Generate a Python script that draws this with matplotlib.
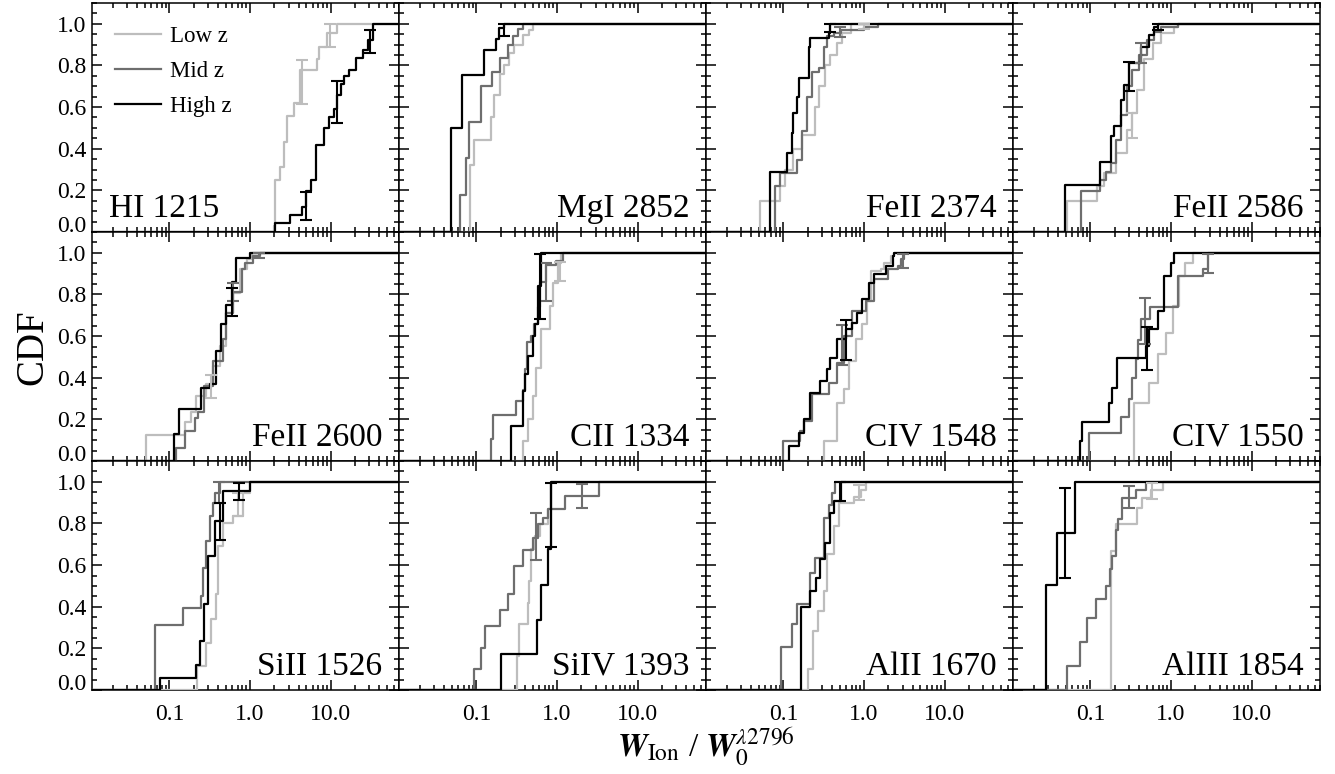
import numpy as np
import matplotlib
matplotlib.use("Agg")
import matplotlib.pyplot as plt
from matplotlib.ticker import FixedLocator, LogLocator, MultipleLocator, FormatStrFormatter, NullFormatter

plt.rcParams['font.family'] = ['Liberation Serif', 'DejaVu Serif']
plt.rcParams['mathtext.fontset'] = 'stix'
plt.rcParams['axes.linewidth'] = 1.1

# 每个离子的累积分布: x 为阶跃位置, y 为阶跃后的 CDF 值
hi1215_low_x = [1.96, 2.02, 2.37, 2.6, 2.87, 3.48, 4.2, 6.8, 7.2, 9.1, 12.1]
hi1215_low_y = [0.03, 0.25, 0.31, 0.43, 0.555, 0.62, 0.78, 0.83, 0.89, 0.955, 1.0]
hi1215_high_x = [2.05, 3.16, 4.42, 4.87, 5.62, 6.49, 8.25, 9.53, 11.0, 12.1, 13.3, 14.7, 16.9, 20.5, 24.9, 28.7, 33.2]
hi1215_high_y = [0.043, 0.083, 0.12, 0.195, 0.25, 0.42, 0.50, 0.55, 0.59, 0.66, 0.71, 0.75, 0.78, 0.835, 0.875, 0.92, 1.0]
hi1215_low_err = [(4.4, 0.72, 0.105), (9.8, 0.945, 0.055)]
hi1215_high_err = [(5.0, 0.125, 0.065), (12.1, 0.625, 0.10), (31.0, 0.915, 0.053)]

mgi2852_low_x = [0.083, 0.094, 0.15, 0.166, 0.198, 0.222, 0.256, 0.296, 0.376, 0.455, 0.50]
mgi2852_low_y = [0.32, 0.44, 0.55, 0.66, 0.76, 0.80, 0.86, 0.90, 0.945, 0.97, 1.0]
mgi2852_mid_x = [0.0625, 0.0736, 0.081, 0.113, 0.158, 0.198, 0.244, 0.282, 0.325, 0.376]
mgi2852_mid_y = [0.18, 0.355, 0.53, 0.70, 0.77, 0.835, 0.90, 0.94, 0.975, 1.0]
mgi2852_high_x = [0.0487, 0.0668, 0.125, 0.175, 0.192, 0.222]
mgi2852_high_y = [0.50, 0.755, 0.875, 0.926, 0.98, 1.0]
mgi2852_high_err = [(0.222, 0.97, 0.03)]

feii2374_low_x = [0.051, 0.091, 0.105, 0.13, 0.169, 0.245, 0.28, 0.332, 0.38, 0.464, 0.536, 0.68]
feii2374_low_y = [0.147, 0.22, 0.30, 0.40, 0.467, 0.60, 0.70, 0.80, 0.85, 0.907, 0.955, 1.0]
feii2374_mid_x = [0.079, 0.091, 0.147, 0.169, 0.195, 0.226, 0.273, 0.316, 0.348, 0.422, 0.511, 1.0, 1.47]
feii2374_mid_y = [0.22, 0.283, 0.347, 0.483, 0.65, 0.77, 0.787, 0.89, 0.94, 0.955, 0.97, 0.987, 1.0]
feii2374_high_x = [0.068, 0.112, 0.127, 0.133, 0.146, 0.154, 0.205, 0.215, 0.365, 0.383]
feii2374_high_y = [0.286, 0.379, 0.475, 0.571, 0.65, 0.739, 0.89, 0.93, 0.955, 1.0]
feii2374_low_err = [(1.0, 0.985, 0.012)]
feii2374_mid_err = [(0.5, 0.96, 0.025)]
feii2374_high_err = [(0.383, 0.98, 0.02)]

feii2586_low_x = [0.052, 0.121, 0.147, 0.205, 0.287, 0.332, 0.383, 0.464, 0.59, 0.75, 1.1, 1.21]
feii2586_low_y = [0.147, 0.22, 0.283, 0.38, 0.49, 0.57, 0.68, 0.83, 0.91, 0.955, 0.987, 1.0]
feii2586_mid_x = [0.0764, 0.133, 0.154, 0.178, 0.205, 0.237, 0.287, 0.332, 0.40, 0.51, 0.62, 0.75, 1.21]
feii2586_mid_y = [0.195, 0.25, 0.29, 0.33, 0.44, 0.56, 0.70, 0.78, 0.85, 0.92, 0.96, 0.987, 1.0]
feii2586_high_x = [0.0487, 0.131, 0.178, 0.196, 0.237, 0.261, 0.302, 0.422, 0.536, 0.619, 0.68]
feii2586_high_y = [0.227, 0.334, 0.459, 0.507, 0.635, 0.707, 0.811, 0.891, 0.947, 0.987, 1.0]
feii2586_low_err = [(0.332, 0.51, 0.06)]
feii2586_mid_err = [(0.42, 0.86, 0.05)]
feii2586_high_err = [(0.30, 0.745, 0.07), (0.68, 0.985, 0.015)]

feii2600_low_x = [0.052, 0.154, 0.187, 0.215, 0.287, 0.348, 0.422, 0.51, 0.62, 0.75, 0.91, 1.05]
feii2600_low_y = [0.123, 0.187, 0.235, 0.31, 0.37, 0.456, 0.552, 0.712, 0.808, 0.92, 0.97, 1.0]
feii2600_mid_x = [0.121, 0.154, 0.205, 0.226, 0.266, 0.348, 0.464, 0.51, 0.62, 0.787, 0.866, 1.1, 1.33]
feii2600_mid_y = [0.064, 0.144, 0.208, 0.235, 0.36, 0.48, 0.584, 0.712, 0.81, 0.92, 0.952, 0.987, 1.0]
feii2600_high_x = [0.115, 0.133, 0.25, 0.32, 0.38, 0.44, 0.50, 0.60, 0.66, 1.0]
feii2600_high_y = [0.13, 0.25, 0.35, 0.37, 0.53, 0.66, 0.75, 0.86, 0.975, 1.0]
feii2600_low_err = [(0.33, 0.36, 0.055)]
feii2600_mid_err = [(0.62, 0.81, 0.043), (1.3, 0.985, 0.012)]
feii2600_high_err = [(0.59, 0.764, 0.068)]

cii1334_low_x = [0.376, 0.434, 0.501, 0.552, 0.637, 0.81, 0.89, 1.03, 1.13]
cii1334_low_y = [0.096, 0.2, 0.312, 0.448, 0.632, 0.744, 0.856, 0.952, 1.0]
cii1334_mid_x = [0.151, 0.16, 0.31, 0.38, 0.40, 0.43, 0.48, 0.52, 0.58, 0.62, 0.73, 0.98, 1.19]
cii1334_mid_y = [0.107, 0.22, 0.29, 0.34, 0.44, 0.57, 0.60, 0.66, 0.74, 0.86, 0.94, 0.96, 1.0]
cii1334_high_x = [0.269, 0.376, 0.40, 0.434, 0.50, 0.526, 0.58, 0.637]
cii1334_high_y = [0.168, 0.336, 0.42, 0.504, 0.60, 0.656, 0.84, 1.0]
cii1334_low_err = [(1.1, 0.91, 0.045)]
cii1334_mid_err = [(0.735, 0.86, 0.092)]
cii1334_high_err = [(0.619, 0.837, 0.155)]

civ1548_low_x = [0.316, 0.464, 0.562, 0.65, 0.787, 0.953, 1.1, 1.21, 1.61, 1.78, 2.15, 2.37]
civ1548_low_y = [0.096, 0.28, 0.344, 0.48, 0.584, 0.656, 0.768, 0.912, 0.92, 0.952, 0.984, 1.0]
civ1548_mid_x = [0.1, 0.162, 0.178, 0.226, 0.365, 0.464, 0.562, 0.715, 1.05, 1.33, 1.96, 2.61, 2.87, 3.16]
civ1548_mid_y = [0.096, 0.144, 0.192, 0.32, 0.376, 0.472, 0.6, 0.72, 0.768, 0.872, 0.92, 0.936, 0.968, 1.0]
civ1548_high_x = [0.119, 0.154, 0.178, 0.215, 0.287, 0.348, 0.383, 0.464, 0.59, 0.715, 0.826, 0.953, 1.15, 1.33, 1.87, 2.26, 2.37]
civ1548_high_y = [0.072, 0.136, 0.2, 0.328, 0.384, 0.44, 0.496, 0.584, 0.632, 0.664, 0.712, 0.776, 0.856, 0.896, 0.936, 0.984, 1.0]
civ1548_mid_err = [(0.536, 0.557, 0.098), (3.0, 0.96, 0.032)]
civ1548_high_err = [(0.59, 0.582, 0.095)]

civ1550_low_x = [0.348, 0.536, 0.681, 0.866, 1.05, 1.27, 1.47, 1.87]
civ1550_low_y = [0.277, 0.376, 0.512, 0.616, 0.744, 0.888, 0.952, 1.0]
civ1550_mid_x = [0.095, 0.237, 0.30, 0.33, 0.365, 0.39, 0.42, 0.55, 1.21, 2.5, 2.87]
civ1550_mid_y = [0.136, 0.21, 0.30, 0.40, 0.49, 0.58, 0.68, 0.74, 0.89, 0.92, 1.0]
civ1550_high_x = [0.075, 0.079, 0.17, 0.187, 0.215, 0.487, 0.536, 0.681, 0.826, 1.0, 1.1]
civ1550_high_y = [0.096, 0.187, 0.28, 0.352, 0.496, 0.552, 0.632, 0.72, 0.888, 0.952, 1.0]
civ1550_mid_err = [(0.473, 0.672, 0.112), (2.87, 0.95, 0.045)]
civ1550_high_err = [(0.5, 0.54, 0.104)]

siii1526_low_x = [0.219, 0.287, 0.332, 0.383, 0.402, 0.464, 0.619, 0.825, 1.0]
siii1526_low_y = [0.115, 0.227, 0.339, 0.459, 0.691, 0.803, 0.835, 0.947, 1.0]
siii1526_mid_x = [0.0668, 0.147, 0.249, 0.262, 0.287, 0.316, 0.348, 0.365, 0.422]
siii1526_mid_y = [0.312, 0.392, 0.45, 0.587, 0.715, 0.835, 0.90, 0.947, 1.0]
siii1526_high_x = [0.0766, 0.215, 0.242, 0.266, 0.302, 0.365, 0.464, 1.0]
siii1526_high_y = [0.059, 0.12, 0.235, 0.411, 0.643, 0.811, 0.955, 1.0]
siii1526_low_err = [(0.715, 0.89, 0.055)]
siii1526_mid_err = [(0.414, 0.95, 0.05)]
siii1526_high_err = [(0.422, 0.81, 0.09), (0.736, 0.953, 0.04)]

siiv1393_low_x = [0.319, 0.341, 0.434, 0.455, 0.478, 0.526, 0.607, 0.772, 0.85]
siiv1393_low_y = [0.163, 0.315, 0.419, 0.523, 0.675, 0.739, 0.795, 0.87, 1.0]
siiv1393_mid_x = [0.0934, 0.113, 0.127, 0.198, 0.244, 0.29, 0.376, 0.5, 0.578, 0.668, 0.772, 1.25, 3.32]
siiv1393_mid_y = [0.102, 0.203, 0.307, 0.384, 0.459, 0.598, 0.672, 0.731, 0.795, 0.827, 0.87, 0.931, 1.0]
siiv1393_high_x = [0.201, 0.568, 0.637, 0.772, 0.85]
siiv1393_high_y = [0.171, 0.336, 0.502, 0.678, 1.0]
siiv1393_mid_err = [(0.551, 0.736, 0.112), (2.01, 0.93, 0.058)]
siiv1393_high_err = [(0.85, 0.84, 0.155)]

alii1670_low_x = [0.2, 0.234, 0.266, 0.316, 0.348, 0.422, 0.487, 0.75, 0.909, 1.05]
alii1670_low_y = [0.1, 0.283, 0.379, 0.475, 0.651, 0.787, 0.899, 0.928, 0.963, 1.0]
alii1670_mid_x = [0.0927, 0.127, 0.147, 0.215, 0.249, 0.316, 0.365, 0.402, 0.442]
alii1670_mid_y = [0.208, 0.315, 0.411, 0.563, 0.635, 0.827, 0.891, 0.947, 1.0]
alii1670_high_x = [0.165, 0.215, 0.256, 0.287, 0.332, 0.383, 0.422, 0.511]
alii1670_high_y = [0.40, 0.475, 0.539, 0.627, 0.707, 0.851, 0.907, 1.0]
alii1670_low_err = [(0.87, 0.95, 0.035)]
alii1670_high_err = [(0.51, 0.955, 0.045)]

aliii1854_low_x = [0.178, 0.205, 0.383, 0.442, 0.562, 0.787]
aliii1854_low_y = [0.667, 0.795, 0.875, 0.923, 0.963, 1.0]
aliii1854_mid_x = [0.052, 0.075, 0.091, 0.119, 0.158, 0.173, 0.185, 0.205, 0.219, 0.249, 0.366, 0.487]
aliii1854_mid_y = [0.115, 0.23, 0.347, 0.435, 0.499, 0.579, 0.643, 0.768, 0.819, 0.923, 0.963, 1.0]
aliii1854_high_x = [0.0284, 0.0389, 0.0652]
aliii1854_high_y = [0.502, 0.752, 1.0]
aliii1854_low_err = [(0.573, 0.955, 0.037)]
aliii1854_mid_err = [(0.302, 0.927, 0.052)]
aliii1854_high_err = [(0.049, 0.755, 0.216)]

ion_names = ['HI 1215', 'MgI 2852', 'FeII 2374', 'FeII 2586',
             'FeII 2600', 'CII 1334', 'CIV 1548', 'CIV 1550',
             'SiII 1526', 'SiIV 1393', 'AlII 1670', 'AlIII 1854']
series_names = ['Low z', 'Mid z', 'High z']
series_colors = ['#bdbdbd', '#6e6e6e', 'black']

XLIM = (0.011, 70.0)
YLIM = (0.0, 1.1)

# 按面板组织: 每个面板给出 (low, mid, high) 三条曲线及误差棒
g = globals()


def get_curve(ion, z):
    key = ion.lower().replace(' ', '') + '_' + z
    if key + '_x' not in g:
        return None
    return g[key + '_x'], g[key + '_y'], g.get(key + '_err', [])


def draw_cdf(ax, xs, ys, errs, color, label):
    """画阶梯形累积分布, 从左边界 0 开始, 到右边界 1 结束"""
    x = np.r_[XLIM[0], xs, XLIM[1]]
    y = np.r_[0.0, ys, ys[-1]]
    ax.step(x, y, where='post', color=color, lw=1.6, label=label, zorder=3)
    if errs:
        ex, ey, ee = zip(*errs)
        ax.errorbar(ex, ey, yerr=ee, fmt='none', ecolor=color,
                    elinewidth=1.5, capsize=4.5, capthick=1.5, zorder=4)


fig = plt.figure(figsize=(13.35, 7.74), dpi=100)
axes = fig.subplots(3, 4, sharex=True, sharey=True)
fig.subplots_adjust(left=92 / 1335, right=1320 / 1335, top=1 - 3 / 774,
                    bottom=1 - 690 / 774, wspace=0, hspace=0)

for i, ax in enumerate(axes.flat):
    ion = ion_names[i]
    for z, name, color in zip(['low', 'mid', 'high'], series_names, series_colors):
        curve = get_curve(ion, z)
        if curve is None:
            # HI 1215 没有中红移样本, 仍保留图例条目
            ax.plot([], [], color=color, lw=1.6, label=name)
            continue
        draw_cdf(ax, curve[0], curve[1], curve[2], color, name)

    ax.set_xscale('log')
    ax.set_xlim(*XLIM)
    ax.set_ylim(*YLIM)

    ax.xaxis.set_major_locator(FixedLocator([0.1, 1.0, 10.0]))
    ax.xaxis.set_major_formatter(FormatStrFormatter('%.1f'))
    ax.xaxis.set_minor_locator(LogLocator(base=10, subs=np.arange(2, 10)))
    ax.xaxis.set_minor_formatter(NullFormatter())
    ax.yaxis.set_major_locator(FixedLocator(np.arange(0, 1.01, 0.2)))
    ax.yaxis.set_major_formatter(FormatStrFormatter('%.1f'))
    ax.yaxis.set_minor_locator(MultipleLocator(0.05))

    ax.tick_params(which='both', direction='in', top=True, right=True,
                   labelsize=17, width=1.1)
    ax.tick_params(which='major', length=7)
    ax.tick_params(which='minor', length=3.5)
    ax.tick_params(axis='x', pad=10)
    ax.tick_params(axis='y', pad=4)

    if i == 0:
        ax.annotate(ion, xy=(0, 0), xycoords='axes fraction', xytext=(12, 11),
                    textcoords='offset points', ha='left', va='baseline', fontsize=24)
    else:
        ax.annotate(ion, xy=(1, 0), xycoords='axes fraction', xytext=(-12, 11),
                    textcoords='offset points', ha='right', va='baseline', fontsize=24)

# 每行最下面的 0.0 标签上移, 避免与下一行的 1.0 重叠
for ax in axes[:, 0]:
    ax.yaxis.get_major_ticks()[0].label1.set_verticalalignment('baseline')

axes[0, 0].legend(loc='upper left', frameon=False, fontsize=16.5,
                  handlelength=2.0, handletextpad=0.4, labelspacing=0.62,
                  borderaxespad=0.6)

fig.text(0.025, 0.552, 'CDF', rotation=90, ha='center', va='center', fontsize=28)
fig.text(0.529, 0.034, r'$\mathbfit{W}_{\mathrm{Ion}}$ / $\mathbfit{W}_0^{\lambda2796}$',
         ha='center', va='center', fontsize=24)

fig.savefig('out.png', dpi=100)
